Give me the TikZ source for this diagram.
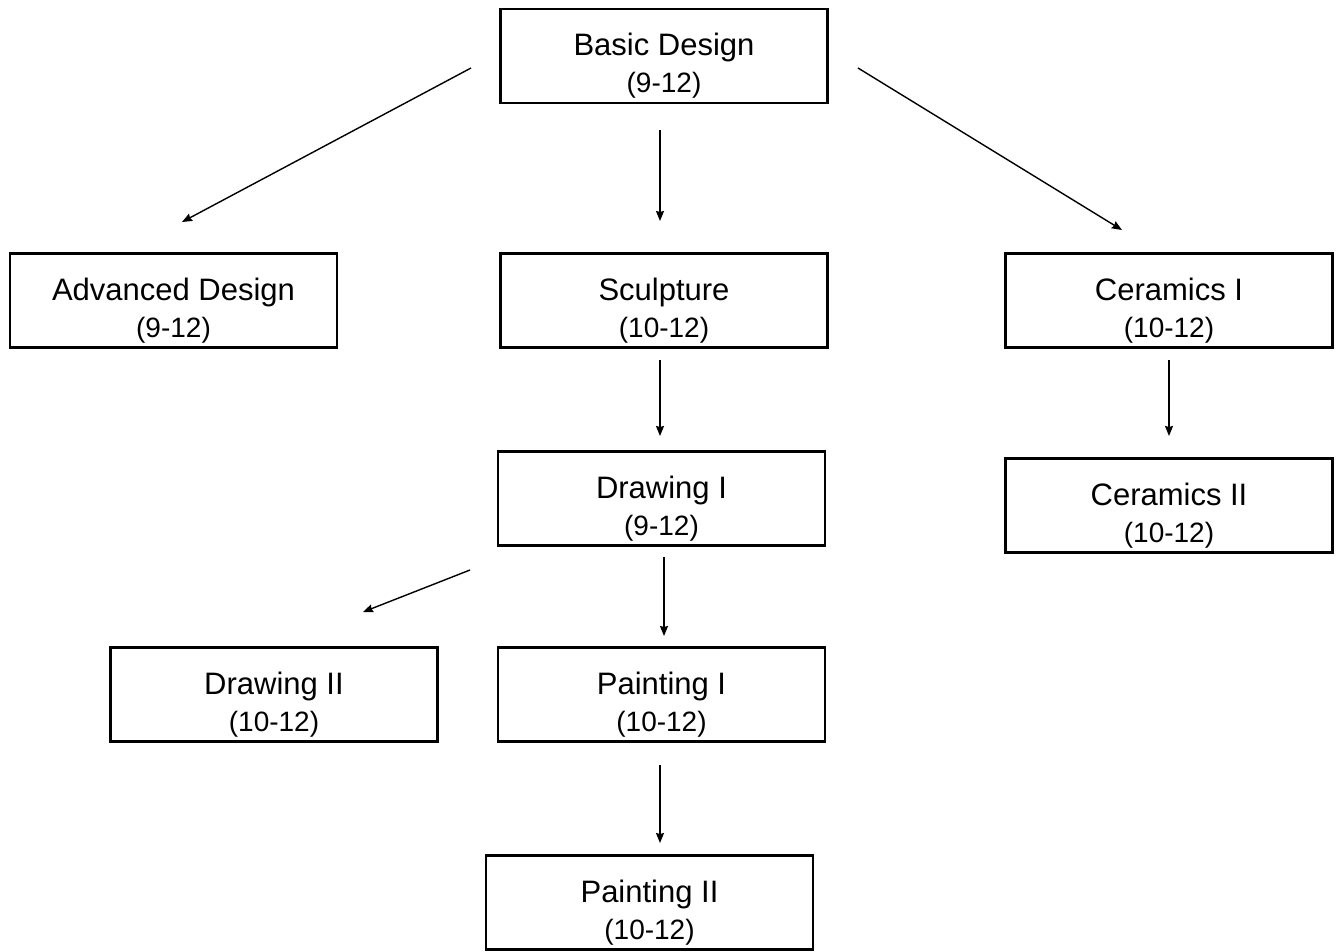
\documentclass[tikz,border=0pt]{standalone}
\usepackage{fontspec}
\setmainfont{Liberation Sans}
\usepackage{xcolor}
\usetikzlibrary{arrows.meta}

\newcommand{\courseText}[2]{\rule{0pt}{42pt}#1\\{\fontsize{28}{37}\selectfont #2}}

\begin{document}
\begin{tikzpicture}[x=1pt,y=-1pt,
  courseBox/.style={draw=drawColor,line width=2.6pt,minimum width=327pt,minimum height=94pt,
    inner sep=0pt,align=center,text=drawColor,font=\fontsize{31}{37}\selectfont},
  linkArrow/.style={draw=drawColor,line width=1.4pt,-{Stealth[length=10pt,width=8pt,inset=1pt]}}]
\definecolor{fillColor}{RGB}{255,255,255}
\definecolor{drawColor}{RGB}{0,0,0}
\path[use as bounding box,fill=fillColor] (0,0) rectangle (1338,951);

\node[courseBox] (basicDesign) at (664,56) {\courseText{Basic Design}{(9-12)}};

\node[courseBox] (advDesign) at (173.5,300.5) {\courseText{Advanced Design}{(9-12)}};

\node[courseBox] (sculpture) at (664,300.5) {\courseText{Sculpture}{(10-12)}};

\node[courseBox] (ceramicsOne) at (1169,300.5) {\courseText{Ceramics I}{(10-12)}};

\node[courseBox] (drawingOne) at (661.5,498.5) {\courseText{Drawing I}{(9-12)}};

\node[courseBox] (ceramicsTwo) at (1169,505.5) {\courseText{Ceramics II}{(10-12)}};

\node[courseBox] (drawingTwo) at (274,694.5) {\courseText{Drawing II}{(10-12)}};

\node[courseBox] (paintingOne) at (661.5,694.5) {\courseText{Painting I}{(10-12)}};

\node[courseBox] (paintingTwo) at (649.5,902.5) {\courseText{Painting II}{(10-12)}};

% free arrow ends
\coordinate (bdLeft) at (471,68);
\coordinate (adTop) at (182,222);
\coordinate (bdDown) at (660,130);
\coordinate (scTop) at (660,221);
\coordinate (bdRight) at (858,68);
\coordinate (c1Top) at (1122,230);
\coordinate (scDown) at (660,360);
\coordinate (d1Top) at (660,436);
\coordinate (c1Down) at (1169,360);
\coordinate (c2Top) at (1169,436);
\coordinate (d1Left) at (470,570);
\coordinate (d2Top) at (363,612);
\coordinate (d1Down) at (664,557);
\coordinate (p1Top) at (664,636);
\coordinate (p1Down) at (660,765);
\coordinate (p2Top) at (660,843);

\path[linkArrow] (bdLeft) -- (adTop);

\path[linkArrow] (bdDown) -- (scTop);

\path[linkArrow] (bdRight) -- (c1Top);

\path[linkArrow] (scDown) -- (d1Top);

\path[linkArrow] (c1Down) -- (c2Top);

\path[linkArrow] (d1Left) -- (d2Top);

\path[linkArrow] (d1Down) -- (p1Top);

\path[linkArrow] (p1Down) -- (p2Top);
\end{tikzpicture}
\end{document}
